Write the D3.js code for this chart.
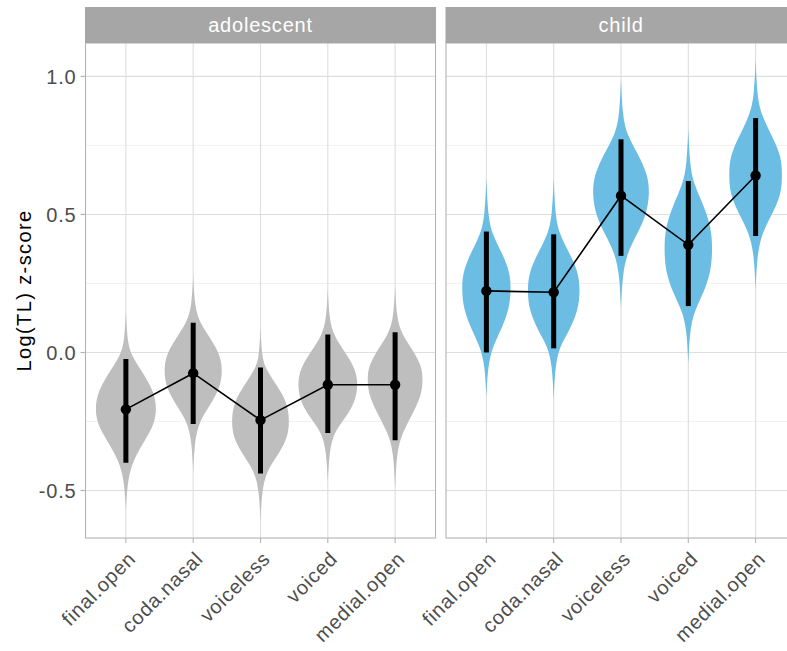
<!DOCTYPE html>
<html>
<head>
<meta charset="utf-8">
<script src="https://cdn.jsdelivr.net/npm/d3@7"></script>
<style>
  html, body { margin: 0; padding: 0; background: #ffffff; }
  svg { display: block; }
  text { font-family: "Liberation Sans", Arial, Helvetica, sans-serif; }
</style>
</head>
<body>
<svg id="chart" width="787" height="651"></svg>
<script>
// ---- data ----------------------------------------------------------------
const groups = ["adolescent", "child"];
const categories = ["final.open", "coda.nasal", "voiceless", "voiced", "medial.open"];

// posterior means and 95% interval bounds
const meanAdolescent  = [-0.206, -0.075, -0.245, -0.117, -0.117];
const lowerAdolescent = [-0.399, -0.259, -0.438, -0.292, -0.318];
const upperAdolescent = [-0.024,  0.108, -0.054,  0.065,  0.073];

const meanChild  = [0.223, 0.218, 0.568, 0.390, 0.641];
const lowerChild = [0.000, 0.015, 0.350, 0.168, 0.422];
const upperChild = [0.438, 0.428, 0.772, 0.621, 0.849];

// violin outlines: [value, relative half-width] from top tail to bottom tail
const violinAdolescent = [
  [[0.15,0],[0.04,0.05],[-0.01,0.18],[-0.07,0.54],[-0.14,0.92],[-0.20,1.02],[-0.26,0.94],[-0.32,0.62],[-0.39,0.24],[-0.46,0.06],[-0.57,0]],
  [[0.28,0],[0.17,0.05],[0.11,0.20],[0.05,0.58],[-0.01,0.90],[-0.07,0.97],[-0.13,0.88],[-0.19,0.56],[-0.25,0.20],[-0.32,0.05],[-0.43,0]],
  [[0.09,0],[-0.02,0.05],[-0.06,0.18],[-0.12,0.54],[-0.18,0.88],[-0.245,0.96],[-0.31,0.90],[-0.37,0.58],[-0.43,0.20],[-0.50,0.05],[-0.61,0]],
  [[0.23,0],[0.12,0.05],[0.06,0.20],[0.00,0.58],[-0.06,0.92],[-0.12,1.00],[-0.18,0.90],[-0.24,0.56],[-0.29,0.20],[-0.36,0.05],[-0.47,0]],
  [[0.24,0],[0.13,0.05],[0.07,0.20],[0.01,0.58],[-0.05,0.88],[-0.10,0.92],[-0.16,0.86],[-0.23,0.54],[-0.30,0.20],[-0.37,0.05],[-0.49,0]]
];
const violinChild = [
  [[0.63,0],[0.50,0.05],[0.43,0.18],[0.36,0.52],[0.29,0.78],[0.23,0.81],[0.16,0.76],[0.09,0.52],[0.02,0.20],[-0.05,0.05],[-0.16,0]],
  [[0.63,0],[0.50,0.05],[0.43,0.18],[0.36,0.52],[0.29,0.82],[0.22,0.87],[0.15,0.80],[0.08,0.52],[0.02,0.19],[-0.05,0.05],[-0.17,0]],
  [[0.99,0],[0.86,0.05],[0.79,0.19],[0.72,0.56],[0.64,0.90],[0.57,0.94],[0.50,0.84],[0.43,0.54],[0.36,0.20],[0.28,0.05],[0.16,0]],
  [[0.81,0],[0.68,0.05],[0.61,0.18],[0.53,0.52],[0.45,0.76],[0.37,0.80],[0.29,0.74],[0.22,0.52],[0.15,0.20],[0.08,0.05],[-0.04,0]],
  [[1.06,0],[0.93,0.05],[0.86,0.19],[0.78,0.56],[0.71,0.85],[0.64,0.88],[0.57,0.84],[0.50,0.54],[0.43,0.20],[0.35,0.05],[0.23,0]]
];

const yMajorTicks = [-0.5, 0.0, 0.5, 1.0];
const yMinorTicks = [-0.25, 0.25, 0.75];
const yLimits = [-0.672, 1.121];
const yTitle = "Log(TL) z-score";
const fills = { adolescent: "#bebebe", child: "#6bbde3" };

const panels = [
  { group: "adolescent", mean: meanAdolescent, lower: lowerAdolescent, upper: upperAdolescent, violin: violinAdolescent },
  { group: "child",      mean: meanChild,      lower: lowerChild,      upper: upperChild,      violin: violinChild }
];

// ---- layout --------------------------------------------------------------
const svg = d3.select("#chart");
const panelTop = 43, panelBottom = 538, stripTop = 7;
const panelX = [[85.5, 435.5], [446, 796]];
const fontSize = 20, spacing = 0.8;

const y = d3.scaleLinear().domain(yLimits).range([panelBottom, panelTop]);
const fmt = d => d3.format(".1f")(d).replace("\u2212", "-");

const defs = svg.append("defs");

panels.forEach((p, pi) => {
  const [x0, x1] = panelX[pi];
  const x = d3.scalePoint().domain(categories).range([x0, x1]).padding(0.6);
  const halfMax = x.step() * 0.45;

  defs.append("clipPath").attr("id", "clip" + pi)
    .append("rect").attr("x", x0).attr("y", panelTop).attr("width", x1 - x0).attr("height", panelBottom - panelTop);

  const g = svg.append("g");

  // grid
  g.selectAll(".minor").data(yMinorTicks).join("line")
    .attr("x1", x0).attr("x2", x1)
    .attr("y1", d => y(d)).attr("y2", d => y(d))
    .attr("stroke", "#ededed").attr("stroke-width", 0.8);
  g.selectAll(".major").data(yMajorTicks).join("line")
    .attr("x1", x0).attr("x2", x1)
    .attr("y1", d => y(d)).attr("y2", d => y(d))
    .attr("stroke", "#dedede").attr("stroke-width", 1.1);
  g.selectAll(".vgrid").data(categories).join("line")
    .attr("x1", d => x(d)).attr("x2", d => x(d))
    .attr("y1", panelTop).attr("y2", panelBottom)
    .attr("stroke", "#dedede").attr("stroke-width", 1.1);

  const inner = g.append("g").attr("clip-path", `url(#clip${pi})`);

  // violins
  categories.forEach((c, i) => {
    const cx = x(c);
    const area = d3.area()
      .y(d => y(d[0]))
      .x0(d => cx - d[1] * halfMax)
      .x1(d => cx + d[1] * halfMax)
      .curve(d3.curveBasis);
    inner.append("path")
      .attr("d", area(p.violin[i]))
      .attr("fill", fills[p.group]);
  });

  // interval bars
  inner.selectAll(".bar").data(categories).join("line")
    .attr("x1", d => x(d)).attr("x2", d => x(d))
    .attr("y1", (d, i) => y(p.lower[i])).attr("y2", (d, i) => y(p.upper[i]))
    .attr("stroke", "#000").attr("stroke-width", 5);

  // connecting line
  const line = d3.line().x((d, i) => x(categories[i])).y(d => y(d));
  inner.append("path").attr("d", line(p.mean))
    .attr("fill", "none").attr("stroke", "#000").attr("stroke-width", 1.6);

  // means
  inner.selectAll(".pt").data(p.mean).join("circle")
    .attr("cx", (d, i) => x(categories[i])).attr("cy", d => y(d))
    .attr("r", 5.2).attr("fill", "#000");

  // panel border
  g.append("rect").attr("x", x0).attr("y", panelTop)
    .attr("width", x1 - x0).attr("height", panelBottom - panelTop)
    .attr("fill", "none").attr("stroke", "#b3b3b3").attr("stroke-width", 1.1);

  // strip
  g.append("rect").attr("x", x0 - 0.5).attr("y", stripTop)
    .attr("width", x1 - x0 + 1).attr("height", panelTop - stripTop)
    .attr("fill", "#a6a6a6");
  g.append("text").attr("x", (x0 + x1) / 2).attr("y", (stripTop + panelTop) / 2)
    .attr("dy", "0.35em").attr("text-anchor", "middle")
    .attr("fill", "#ffffff").attr("font-size", fontSize).attr("letter-spacing", spacing)
    .text(p.group);

  // x ticks and labels
  g.selectAll(".xtick").data(categories).join("line")
    .attr("x1", d => x(d)).attr("x2", d => x(d))
    .attr("y1", panelBottom).attr("y2", panelBottom + 5)
    .attr("stroke", "#b3b3b3").attr("stroke-width", 1.1);
  g.selectAll(".xlab").data(categories).join("text")
    .attr("transform", d => `translate(${x(d) + 11},${panelBottom + 22}) rotate(-45)`)
    .attr("text-anchor", "end")
    .attr("fill", "#4d4d4d").attr("font-size", fontSize).attr("letter-spacing", spacing)
    .text(d => d);
});

// y axis (left panel only)
const [lx0] = panelX[0];
const yAxis = svg.append("g");
yAxis.selectAll("line").data(yMajorTicks).join("line")
  .attr("x1", lx0 - 5).attr("x2", lx0)
  .attr("y1", d => y(d)).attr("y2", d => y(d))
  .attr("stroke", "#b3b3b3").attr("stroke-width", 1.1);
yAxis.selectAll("text").data(yMajorTicks).join("text")
  .attr("x", lx0 - 9).attr("y", d => y(d)).attr("dy", "0.36em")
  .attr("text-anchor", "end").attr("fill", "#4d4d4d")
  .attr("font-size", fontSize).attr("letter-spacing", spacing)
  .text(fmt);

svg.append("text")
  .attr("transform", `translate(24,${(panelTop + panelBottom) / 2}) rotate(-90)`)
  .attr("text-anchor", "middle").attr("dy", "0.35em")
  .attr("fill", "#000").attr("font-size", 20).attr("letter-spacing", 1.4)
  .text(yTitle);
</script>
</body>
</html>
